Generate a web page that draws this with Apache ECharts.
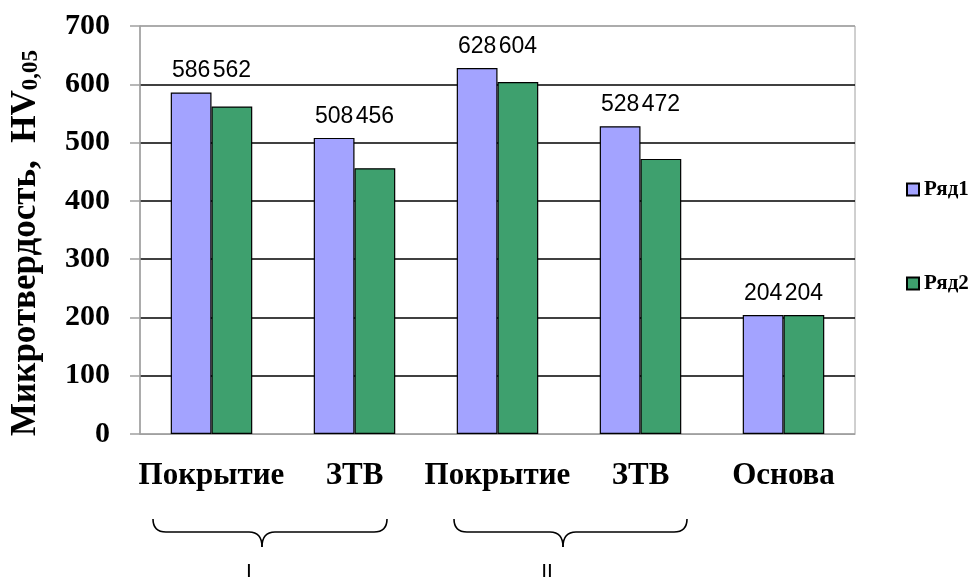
<!DOCTYPE html>
<html><head><meta charset="utf-8">
<script src="https://cdn.jsdelivr.net/npm/echarts@6/dist/echarts.min.js"></script>
<style>html,body{margin:0;padding:0;background:#fff}#c{width:972px;height:577px}</style>
</head><body><div id="c"></div>
<script>
const categories = ['Покрытие', 'ЗТВ', 'Покрытие', 'ЗТВ', 'Основа'];
const series1 = [586, 508, 628, 528, 204];
const series2 = [562, 456, 604, 472, 204];
const seriesNames = ['Ряд1', 'Ряд2'];
const groupLabels = ['I', 'II'];

// brace layout (pixels): left end, tip, right end, label x
const braceLayout = [
  {x1: 153, tip: 262, x2: 387, lx: 249},
  {x1: 454, tip: 563, x2: 687, lx: 547}
];

const serif = '"Liberation Serif", "Times New Roman", serif';
const sans = '"Liberation Sans", Arial, sans-serif';
const chart = echarts.init(document.getElementById('c'));
const lbl = {show: true, position: 'top', distance: 10, color: '#000', fontFamily: sans, fontSize: 23};
chart.setOption({
  animation: false,
  grid: {left: 137, right: 117, top: 26, bottom: 143, show: true, borderColor: '#a0a0a0', borderWidth: 1},
  legend: {
    orient: 'vertical', left: 901, top: 174, itemGap: 73, itemWidth: 12, itemHeight: 12, icon: 'rect',
    textStyle: {fontFamily: serif, fontWeight: 'bold', fontSize: 21, color: '#000'},
    data: seriesNames
  },
  xAxis: {
    type: 'category', data: categories,
    axisLine: {lineStyle: {color: '#a0a0a0'}}, axisTick: {show: false},
    axisLabel: {margin: 26, fontFamily: serif, fontWeight: 'bold', fontSize: 31, color: '#000', interval: 0}
  },
  yAxis: {
    type: 'value', min: 0, max: 700, interval: 100,
    name: '{m|Микротвердость,  HV}{s|0,05}', nameLocation: 'middle', nameGap: 97,
    nameTextStyle: {padding: [0, 26, 0, 0], rich: {
      m: {fontFamily: serif, fontWeight: 'bold', fontSize: 35, color: '#000'},
      s: {fontFamily: serif, fontWeight: 'bold', fontSize: 23, color: '#000', padding: [11, 0, 0, 0]}
    }},
    axisLine: {show: true, lineStyle: {color: '#a0a0a0', width: 1.5}},
    axisTick: {show: true, length: 10, lineStyle: {color: '#a0a0a0', width: 1.5}},
    axisLabel: {margin: 30, fontFamily: serif, fontWeight: 'bold', fontSize: 30, color: '#000'},
    splitLine: {lineStyle: {color: ['#a0a0a0', '#000', '#000', '#000', '#000', '#000', '#000', '#a0a0a0'], width: 1.5}}
  },
  series: [
    {name: seriesNames[0], type: 'bar', data: series1, barGap: '0%', barCategoryGap: '43%',
     itemStyle: {color: '#A3A3FF', borderColor: '#000', borderWidth: 1.2}, label: lbl},
    {name: seriesNames[1], type: 'bar', data: series2,
     itemStyle: {color: '#3EA06E', borderColor: '#000', borderWidth: 1.2}, label: lbl}
  ]
});

// align the labels of each pair at the height of the taller bar's label
const py = v => chart.convertToPixel({yAxisIndex: 0}, v);
const aligned = (arr, other) => arr.map((v, i) => {
  const top = Math.max(v, other[i]);
  return {value: v, label: {offset: [0, py(top) - py(v)]}};
});

const g = [];
braceLayout.forEach((b, i) => {
  const y0 = 519, ym = 532, yt = 547, r = 13, st = {stroke: '#000', lineWidth: 1.6, fill: null};
  g.push({type: 'bezierCurve', shape: {x1: b.x1, y1: y0, cpx1: b.x1, cpy1: ym, x2: b.x1 + r, y2: ym}, style: st});
  g.push({type: 'line', shape: {x1: b.x1 + r, y1: ym, x2: b.tip - r, y2: ym}, style: st});
  g.push({type: 'bezierCurve', shape: {x1: b.tip - r, y1: ym, cpx1: b.tip, cpy1: ym, x2: b.tip, y2: yt}, style: st});
  g.push({type: 'bezierCurve', shape: {x1: b.tip, y1: yt, cpx1: b.tip, cpy1: ym, x2: b.tip + r, y2: ym}, style: st});
  g.push({type: 'line', shape: {x1: b.tip + r, y1: ym, x2: b.x2 - r, y2: ym}, style: st});
  g.push({type: 'bezierCurve', shape: {x1: b.x2 - r, y1: ym, cpx1: b.x2, cpy1: ym, x2: b.x2, y2: y0}, style: st});
  g.push({type: 'text', x: b.lx, y: 572,
    style: {text: groupLabels[i], font: '21px ' + sans, fill: '#000', align: 'center', verticalAlign: 'middle'}});
});
chart.setOption({series: [{data: aligned(series1, series2)}, {data: aligned(series2, series1)}], graphic: g});
</script></body></html>
